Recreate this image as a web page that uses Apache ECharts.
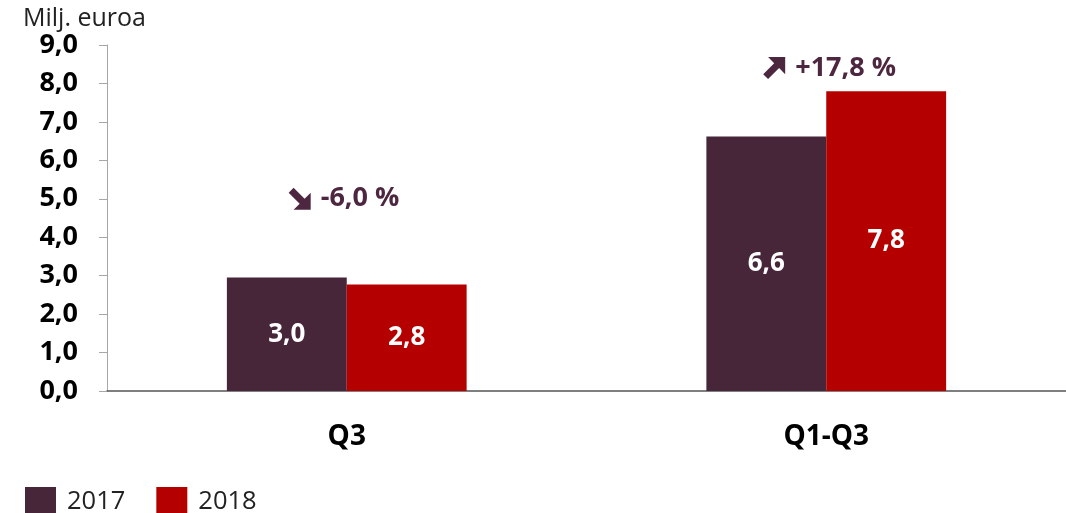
<!DOCTYPE html>
<html><head><meta charset="utf-8">
<script src="https://cdn.jsdelivr.net/npm/echarts@6/dist/echarts.min.js"></script>
<style>html,body{margin:0;padding:0;background:#fff}#c{width:1066px;height:513px}</style>
</head><body><div id="c"></div>
<script>
const categories = ['Q3', 'Q1-Q3'];
const series2017 = [2.95, 6.62];
const series2018 = [2.77, 7.80];
const labels2017 = ['3,0', '6,6'];
const labels2018 = ['2,8', '7,8'];
const changes = ['-6,0 %', '+17,8 %'];
const changeDirections = ['down', 'up'];
const changeLevels = [5.0, 8.4];
const yTicks = [0, 9, 1];

const FONT = 'Open Sans';
const ARROW = {
  down: 'path://M0 4 L4 0 L13 9 L18 4 L18 18 L4 18 L9 13 Z',
  up: 'path://M0 14 L4 18 L13 9 L18 14 L18 0 L4 0 L9 5 Z'
};
const arrowOffsets = [-107, -112];

const chart = echarts.init(document.getElementById('c'));
chart.setOption({
  animation: false,
  textStyle: { fontFamily: FONT },
  title: {
    text: 'Milj. euroa', left: 18, top: 1,
    textStyle: { fontFamily: FONT, fontWeight: 'normal', fontSize: 25, color: '#222' }
  },
  legend: {
    left: 20, top: 482, itemWidth: 31, itemHeight: 30, itemGap: 31,
    icon: 'rect',
    textStyle: { fontFamily: FONT, fontSize: 25.5, color: '#222', padding: [0, 0, 0, 6] },
    data: ['2017', '2018']
  },
  grid: { left: 107, right: 0, top: 45, bottom: 122, containLabel: false },
  xAxis: {
    type: 'category', data: categories,
    axisLine: { lineStyle: { color: '#555', width: 1.5 } },
    axisTick: { show: false },
    axisLabel: { margin: 32, fontFamily: FONT, fontWeight: 'bold', fontSize: 28, color: '#000' }
  },
  yAxis: {
    type: 'value', min: yTicks[0], max: yTicks[1], interval: yTicks[2],
    splitLine: { show: false },
    axisLine: { show: true, lineStyle: { color: '#a6a6a6' } },
    axisTick: { show: true, length: 8, lineStyle: { color: '#a6a6a6' } },
    axisLabel: {
      margin: 29, fontFamily: FONT, fontWeight: 'bold', fontSize: 27, color: '#000',
      formatter: v => v.toFixed(1).replace('.', ',')
    }
  },
  series: [
    {
      name: '2017', type: 'bar', data: series2017, barGap: '0%', barCategoryGap: '50%',
      itemStyle: { color: '#47263a' },
      label: {
        show: true, position: 'inside', color: '#fff', fontFamily: FONT, fontWeight: 'bold', fontSize: 26,
        formatter: p => labels2017[p.dataIndex]
      }
    },
    {
      name: '2018', type: 'bar', data: series2018,
      itemStyle: { color: '#b50000' },
      label: {
        show: true, position: 'inside', color: '#fff', fontFamily: FONT, fontWeight: 'bold', fontSize: 26,
        formatter: p => labels2018[p.dataIndex]
      },
      markPoint: {
        symbolSize: 22,
        itemStyle: { color: '#4d2740' },
        label: {
          show: true, position: 'right', distance: 10, color: '#4d2740', fontFamily: FONT, fontWeight: 'bold', fontSize: 27,
          formatter: p => p.name
        },
        data: categories.map((c, i) => ({
          name: changes[i], coord: [c, changeLevels[i]],
          symbol: ARROW[changeDirections[i]], symbolOffset: [arrowOffsets[i], 0]
        }))
      }
    }
  ]
});
</script></body></html>
